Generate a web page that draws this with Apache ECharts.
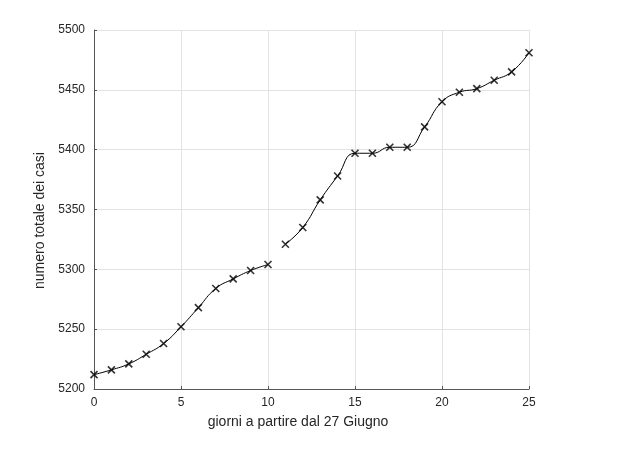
<!DOCTYPE html>
<html><head><meta charset="utf-8">
<script src="https://cdn.jsdelivr.net/npm/echarts@6/dist/echarts.min.js"></script>
<style>html,body{margin:0;padding:0;background:#fff}#c{width:619px;height:451px}</style>
</head><body><div id="c"></div>
<script>
const days1 = [0,1,2,3,4,5,6,7,8,9,10];
const cases1 = [5212,5216,5221,5229,5238,5252,5268,5284,5292,5299,5304];
const days2 = [11,12,13,14,15,16,17,18,19,20,21,22,23,24,25];
const cases2 = [5321,5335,5358,5378,5397,5397,5402,5402,5419,5440,5448,5451,5458,5465,5481];
const xTicks = [0,5,10,15,20,25];
const yTicks = [5200,5250,5300,5350,5400,5450,5500];

const seg1 = days1.map((d,i)=>[d,cases1[i]]);
const seg2 = days2.map((d,i)=>[d,cases2[i]]);
const allPts = seg1.concat(seg2);
const font = 'Liberation Sans, Arial, sans-serif';
const chart = echarts.init(document.getElementById('c'));
const lineStyle = {color:'#000', width:1};
chart.setOption({
  animation:false,
  grid:{left:94, right:90, top:30, bottom:62},
  xAxis:{type:'value', min:xTicks[0], max:xTicks[xTicks.length-1], interval:5,
    name:'giorni a partire dal 27 Giugno', nameLocation:'middle', nameGap:26,
    nameTextStyle:{color:'#262626', fontSize:14, fontFamily:font, padding:[0,27,0,0]},
    axisLine:{show:true, lineStyle:{color:'#555', width:1}},
    axisTick:{show:true, inside:true, length:3, lineStyle:{color:'#555'}},
    axisLabel:{color:'#262626', fontSize:12, fontFamily:font, margin:8, formatter:v=>String(v)},
    splitLine:{show:true, lineStyle:{color:'#e3e3e3', width:1}}},
  yAxis:{type:'value', min:yTicks[0], max:yTicks[yTicks.length-1], interval:50,
    name:'numero totale dei casi', nameLocation:'middle', nameGap:38,
    nameTextStyle:{color:'#262626', fontSize:14, fontFamily:font, padding:[0,22,0,0]},
    axisLine:{show:true, lineStyle:{color:'#555', width:1}},
    axisTick:{show:true, inside:true, length:3, lineStyle:{color:'#555'}},
    axisLabel:{color:'#262626', fontSize:12, fontFamily:font, margin:9, formatter:v=>String(v)},
    splitLine:{show:true, lineStyle:{color:'#e3e3e3', width:1}}},
  series:[
    {type:'line', data:seg1, smooth:0.5, showSymbol:false, lineStyle:lineStyle, z:3},
    {type:'line', data:seg2, smooth:0.5, showSymbol:false, lineStyle:lineStyle, z:3},
    {type:'scatter', data:allPts, symbol:'path://M0,0L10,10M10,0L0,10', symbolSize:7,
      itemStyle:{color:'none', borderColor:'#000', borderWidth:1.6}, z:4}
  ]
});
</script></body></html>
